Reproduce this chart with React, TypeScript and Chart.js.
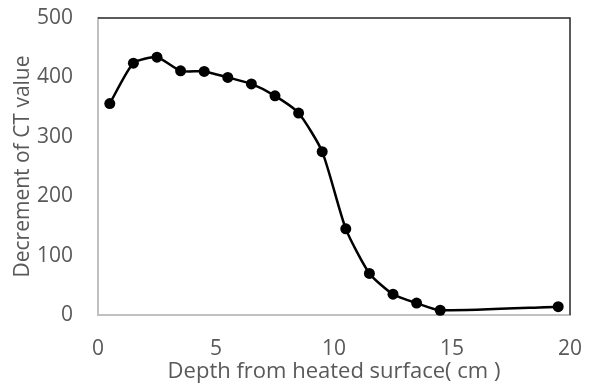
import React, { useEffect, useRef } from "react";
import { Chart, registerables } from "chart.js";

Chart.register(...registerables);

const depths = [0.5, 1.5, 2.5, 3.5, 4.5, 5.5, 6.5, 7.5, 8.5, 9.5, 10.5, 11.5, 12.5, 13.5, 14.5, 19.5];
const decrements = [356, 424, 434, 411, 410, 400, 389, 369, 340, 275, 145, 70, 35, 20, 8, 14];
const xTicks = [0, 5, 10, 15, 20];
const yTicks = [0, 100, 200, 300, 400, 500];
const xTitle = "Depth from heated surface( cm )";
const yTitle = "Decrement of CT value";

const FONT = "'Open Sans', 'Noto Sans CJK JP', sans-serif";

const frame = {
  id: "frame",
  afterDraw(chart: any) {
    const { ctx, chartArea } = chart;
    ctx.save();
    ctx.strokeStyle = "#262626";
    ctx.lineWidth = 1.5;
    ctx.beginPath();
    ctx.moveTo(chartArea.left, chartArea.top);
    ctx.lineTo(chartArea.right, chartArea.top);
    ctx.lineTo(chartArea.right, chartArea.bottom);
    ctx.stroke();
    ctx.restore();
  },
};

export default function App() {
  const ref = useRef<HTMLCanvasElement>(null);
  useEffect(() => {
    document.body.style.margin = "0";
    const chart = new Chart(ref.current!, {
      type: "scatter",
      data: {
        datasets: [
          {
            data: depths.map((x, i) => ({ x, y: decrements[i] })),
            showLine: true,
            borderColor: "#000000",
            backgroundColor: "#000000",
            borderWidth: 2.5,
            pointRadius: 5.5,
            pointBorderWidth: 0,
            pointBackgroundColor: "#000000",
            tension: 0.2,
            clip: 10,
          },
        ],
      },
      options: {
        responsive: false,
        animation: false,
        layout: { padding: { top: 18, right: 23, left: 0, bottom: 0 } },
        plugins: { legend: { display: false }, tooltip: { enabled: false } },
        elements: { line: { capBezierPoints: false } },
        scales: {
          x: {
            type: "linear",
            min: 0,
            max: 20,
            afterBuildTicks: (s: any) => {
              s.ticks = xTicks.map((v) => ({ value: v }));
            },
            afterFit: (s: any) => {
              s.height = 70;
              s.paddingLeft = 0;
              s.paddingRight = 0;
            },
            grid: { display: false, drawTicks: false },
            border: { display: true, color: "#c0c0c0", width: 2 },
            ticks: { color: "#595959", font: { family: FONT, size: 21 }, padding: 21, maxRotation: 0 },
            title: {
              display: true,
              text: xTitle,
              color: "#595959",
              font: { family: FONT, size: 22 },
              padding: { top: 0, bottom: 0 },
            },
          },
          y: {
            type: "linear",
            min: 0,
            max: 500,
            afterBuildTicks: (s: any) => {
              s.ticks = yTicks.map((v) => ({ value: v }));
            },
            afterFit: (s: any) => {
              s.width = 98;
              s.paddingTop = 0;
              s.paddingBottom = 0;
            },
            grid: { display: false, drawTicks: false },
            border: { display: true, color: "#c0c0c0", width: 2 },
            ticks: { color: "#595959", font: { family: FONT, size: 21 }, padding: 25 },
            title: {
              display: true,
              text: yTitle,
              color: "#595959",
              font: { family: FONT, size: 21 },
              padding: { top: 10, bottom: 0 },
            },
          },
        },
      },
      plugins: [frame],
    });
    return () => chart.destroy();
  }, []);
  return (
    <div style={{ width: 593, height: 385 }}>
      <canvas ref={ref} width={593} height={385} />
    </div>
  );
}
